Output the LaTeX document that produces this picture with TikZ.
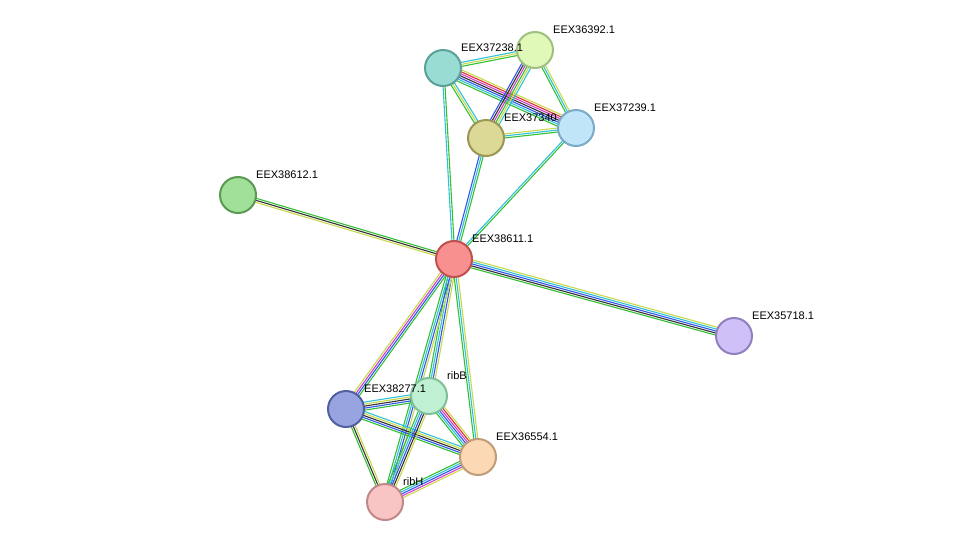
\documentclass[tikz,border=0pt]{standalone}
\usepackage{fontspec}
\setmainfont{Liberation Sans}
\usetikzlibrary{calc}
\definecolor{colg}{HTML}{33C033}
\definecolor{coly}{HTML}{C8D84A}
\definecolor{colk}{HTML}{333333}
\definecolor{colb}{HTML}{3355EE}
\definecolor{colm}{HTML}{D040D0}
\definecolor{colc}{HTML}{30C0D8}
\definecolor{colr}{HTML}{E03030}
\tikzset{
  prot/.style={circle,minimum size=36pt,inner sep=0pt,line width=2pt},
  lab/.style={anchor=south west,inner sep=0pt,font=\fontsize{11}{13}\selectfont},
  ln/.style={line width=1.1pt}
}
\newcommand{\edge}[3]{%
  \foreach \c [count=\i] in {#3}{\xdef\nn{\i}}%
  \foreach \c [count=\i] in {#3}{%
    \pgfmathsetmacro{\d}{(\i-(\nn+1)/2)*2}%
    \draw[ln,draw=col\c] ($(#1)!\d pt!90:(#2)$) -- ($(#2)!\d pt!-90:(#1)$);}}
\begin{document}
\begin{tikzpicture}[x=1pt,y=-1pt]
\useasboundingbox (0,0) rectangle (976,547);
\coordinate (p36392) at (535,50);
\coordinate (p37238) at (443,68);
\coordinate (p37340) at (486,138);
\coordinate (p37239) at (576,128);
\coordinate (p38612) at (238,195);
\coordinate (p38611) at (454,259);
\coordinate (p35718) at (734,336);
\coordinate (p38277) at (346,409);
\coordinate (pribB) at (429,396);
\coordinate (p36554) at (478,457);
\coordinate (pribH) at (385,502);
\edge{p38611}{p38612}{g,k,y}
\edge{p38611}{p35718}{g,k,b,c,y}
\edge{p38611}{p37238}{g,c}
\edge{p38611}{p37340}{g,c,b}
\edge{p38611}{p37239}{g,c}
\edge{p38611}{p38277}{y,m,b,g}
\edge{p38611}{pribB}{g,c,b,y}
\edge{p38611}{p36554}{g,c,y}
\edge{p38611}{pribH}{g,c,b,y}
\edge{p37238}{p36392}{g,y,c}
\edge{p37238}{p37340}{g,y,c}
\edge{p37238}{p37239}{g,c,b,k,m,r,y}
\edge{p36392}{p37340}{b,k,m,g,y,c}
\edge{p36392}{p37239}{g,c,y}
\edge{p37340}{p37239}{g,c,y}
\edge{p38277}{pribB}{g,b,k,y,c}
\edge{p38277}{p36554}{g,b,k,y,c}
\edge{p38277}{pribH}{g,k,y}
\edge{pribB}{p36554}{g,c,b,m,r,y}
\edge{pribB}{pribH}{g,c,b,k,y}
\edge{p36554}{pribH}{g,c,b,m,y}
\node[prot,fill={rgb,255:red,224;green,248;blue,184},draw={rgb,255:red,160;green,192;blue,128}] (n36392) at (p36392) {};
\node[prot,fill={rgb,255:red,153;green,220;blue,212},draw={rgb,255:red,90;green,160;blue,152}] (n37238) at (p37238) {};
\node[prot,fill={rgb,255:red,220;green,216;blue,150},draw={rgb,255:red,154;green,150;blue,84}] (n37340) at (p37340) {};
\node[prot,fill={rgb,255:red,192;green,228;blue,248},draw={rgb,255:red,122;green,170;blue,200}] (n37239) at (p37239) {};
\node[prot,fill={rgb,255:red,160;green,224;blue,152},draw={rgb,255:red,90;green,154;blue,82}] (n38612) at (p38612) {};
\node[prot,fill={rgb,255:red,248;green,144;blue,144},draw={rgb,255:red,192;green,80;blue,80}] (n38611) at (p38611) {};
\node[prot,fill={rgb,255:red,208;green,192;blue,248},draw={rgb,255:red,144;green,128;blue,192}] (n35718) at (p35718) {};
\node[prot,fill={rgb,255:red,152;green,164;blue,224},draw={rgb,255:red,80;green,96;blue,160}] (n38277) at (p38277) {};
\node[prot,fill={rgb,255:red,192;green,240;blue,212},draw={rgb,255:red,128;green,192;blue,152}] (nribB) at (pribB) {};
\node[prot,fill={rgb,255:red,252;green,216;blue,180},draw={rgb,255:red,192;green,156;blue,120}] (n36554) at (p36554) {};
\node[prot,fill={rgb,255:red,248;green,196;blue,196},draw={rgb,255:red,192;green,136;blue,136}] (nribH) at (pribH) {};
\node[lab] (l36392) at ($(p36392)+(18,-16)$) {EEX36392.1};
\node[lab] (l37238) at ($(p37238)+(18,-16)$) {EEX37238.1};
\node[lab] (l37340) at ($(p37340)+(18,-16)$) {EEX37340};
\node[lab] (l37239) at ($(p37239)+(18,-16)$) {EEX37239.1};
\node[lab] (l38612) at ($(p38612)+(18,-16)$) {EEX38612.1};
\node[lab] (l38611) at ($(p38611)+(18,-16)$) {EEX38611.1};
\node[lab] (l35718) at ($(p35718)+(18,-16)$) {EEX35718.1};
\node[lab] (l38277) at ($(p38277)+(18,-16)$) {EEX38277.1};
\node[lab] (lribB) at ($(pribB)+(18,-16)$) {ribB};
\node[lab] (l36554) at ($(p36554)+(18,-16)$) {EEX36554.1};
\node[lab] (lribH) at ($(pribH)+(18,-16)$) {ribH};
\end{tikzpicture}
\end{document}
